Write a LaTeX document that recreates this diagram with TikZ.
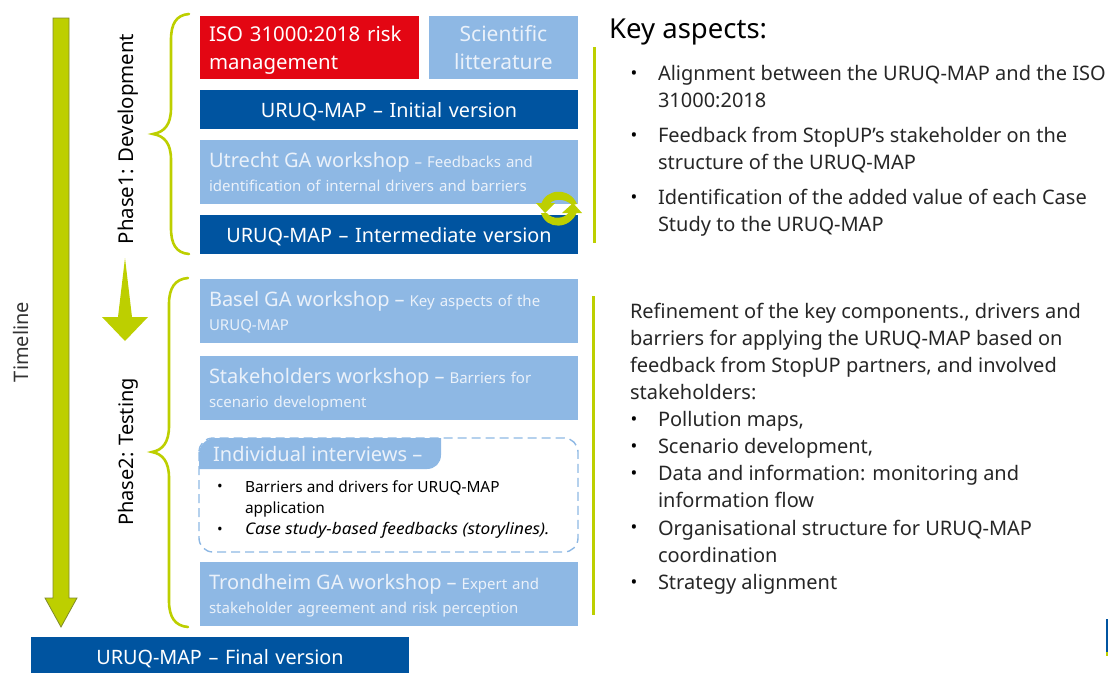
\documentclass[tikz,border=0pt]{standalone}
\usepackage{fontspec}
\usepackage{graphicx}
\setmainfont{Noto Sans}
\definecolor{lime}{HTML}{BDCF00}
\definecolor{olive2}{HTML}{7F8A2A}
\definecolor{deepblue}{HTML}{0054A0}
\definecolor{softblue}{HTML}{8EB8E4}
\definecolor{isored}{HTML}{E30613}
\definecolor{paletext}{HTML}{EAF1FA}
\newcommand{\fs}[2]{\fontsize{#1}{#2}\selectfont}
\newcommand{\headtxt}[1]{{\fs{20}{24}#1}}
\tikzset{
  box/.style={anchor=north west,inner xsep=9pt,inner ysep=0pt,outer sep=0pt,align=left,text depth=0pt},
  softbox/.style={box,fill=softblue,text=paletext},
  softwide/.style={softbox,minimum width=378pt,minimum height=64pt,text width=360pt,text depth=24pt,font=\fs{15}{24}},
  deepbox/.style={box,fill=deepblue,text=white,align=center,minimum width=378pt,text width=360pt,font=\fs{19.8}{24}},
  bracestroke/.style={draw=lime,line width=2.6pt,line cap=round},
  rule/.style={draw=lime,line width=3pt},
  para/.style={anchor=south west,inner sep=0pt,outer sep=0pt,align=left,text=black!85,text depth=0pt,font=\fs{20}{27}},
  bulletmark/.style={anchor=center,inner sep=0pt,text=black,font=\fs{18}{20}},
  phase/.style={rotate=90,anchor=center,inner sep=0pt,text=black,font=\fs{20}{24}}
}
\begin{document}
\begin{tikzpicture}[x=1pt,y=-1pt]
\useasboundingbox (0,0) rectangle (1108,672);
% timeline arrow
\draw[draw=olive2,fill=lime,line width=0.8pt] (53,18) -- (69,18) -- (69,598) -- (77,598) -- (61,627) -- (45,598) -- (53,598) -- cycle;
\node[phase,text=black!80] (timeline) at (21,342) {Timeline};
% phase arrow
\fill[lime] (125,258) -- (132,317) -- (148,317) -- (125,341) -- (102,317) -- (118,317) -- cycle;
\node[phase,font=\fs{20.4}{24}] (phaseone) at (128,139) {Phase1: Development};
\node[phase] (phasetwo) at (128,452) {Phase2: Testing};
% braces
\draw[bracestroke] (189,14) .. controls (176,15) and (171,24) .. (171,40) -- (171,108) .. controls (171,124) and (165,132) .. (153,134) .. controls (165,136) and (171,144) .. (171,160) -- (171,228) .. controls (171,244) and (176,253) .. (189,254);
\draw[bracestroke] (188,278) .. controls (175,279) and (169,288) .. (169,304) -- (169,426) .. controls (169,442) and (163,450) .. (152,452) .. controls (163,454) and (169,462) .. (169,478) -- (169,601) .. controls (169,617) and (175,626) .. (188,627);
% boxes
\node[box,fill=isored,text=white,minimum width=219pt,minimum height=63pt,text width=201pt,text depth=28pt,font=\fs{20.4}{28}] (iso) at (200,16) {ISO 31000:2018 risk\\management};
\node[softbox,minimum width=149pt,minimum height=63pt,text width=131pt,text depth=28pt,align=center,font=\fs{21}{28}] (lit) at (429,16) {Scientific\\litterature};
\node[deepbox,minimum height=39pt] (initial) at (200,90) {URUQ-MAP – Initial version};
\node[softwide] (utrecht) at (200,140) {\headtxt{Utrecht GA workshop} – Feedbacks and\\identification of internal drivers and barriers};
\node[deepbox,minimum height=39pt] (intermediate) at (200,215) {URUQ-MAP – Intermediate version};
\node[softwide] (basel) at (200,279) {\headtxt{Basel GA workshop –} Key aspects of the\\URUQ-MAP};
\node[softwide] (stake) at (200,356) {\headtxt{Stakeholders workshop –} Barriers for\\scenario development};
% interviews
\draw[draw=softblue,line width=1.4pt,dash pattern=on 9pt off 5pt,rounded corners=14pt] (199,438) rectangle (578,552);
\fill[softblue] (199,469) -- (199,455) .. controls (199,445) and (206,438) .. (216,438) -- (441,438) -- (441,455) .. controls (441,463) and (435,469) .. (427,469) -- cycle;
\node[anchor=west,inner sep=0pt,text=paletext,font=\fs{20}{24}] (indiv) at (213,454) {Individual interviews –};
\node[bulletmark,font=\fs{15}{18}] (b1) at (220,488) {•};
\node[para,text=black,font=\fs{15.4}{21}] (t1) at (245,513) {Barriers and drivers for URUQ-MAP\\application};
\node[bulletmark,font=\fs{15}{18}] (b2) at (220,531) {•};
\node[para,text=black,font=\fs{16}{18}] (t2) at (245,534.5) {\scalebox{1.075}[1]{\itshape Case study-based feedbacks (storylines).}};
\node[softwide] (trond) at (200,562) {\headtxt{Trondheim GA workshop –} Expert and\\stakeholder agreement and risk perception};
\node[deepbox,minimum height=40pt] (final) at (31,637) {URUQ-MAP – Final version};
% cycle icon
\fill[lime] (541,205) .. controls (545,188) and (570,187) .. (577,204) -- (572,205) .. controls (565,198) and (552,198) .. (549,205) -- cycle;
\fill[lime] (536,203) -- (555,203) -- (545,213) -- cycle;
\fill[lime] (541,213) .. controls (546,230) and (570,230) .. (577,212) -- (569,212) .. controls (565,219) and (552,220) .. (547,213) -- cycle;
\fill[lime] (562,213) -- (582,213) -- (573,203) -- cycle;
% rules
\draw[rule] (594,47) -- (594,243);
\draw[rule] (593,296) -- (593,615);
\fill[deepblue] (1106,619) rectangle (1108,652);
\fill[lime] (1106,652) rectangle (1108,656);
% right text
\node[anchor=south west,inner sep=0pt,text=black,text depth=0pt,font=\fs{27.5}{30}] (key) at (609,39) {Key aspects:};
\node[bulletmark] (k1) at (634,75) {•};
\node[para] (kt1) at (658,107) {Alignment between the URUQ-MAP and the ISO\\31000:2018};
\node[bulletmark] (k2) at (634,137) {•};
\node[para] (kt2) at (658,169) {Feedback from StopUP’s stakeholder on the\\structure of the URUQ-MAP};
\node[bulletmark] (k3) at (634,199) {•};
\node[para] (kt3) at (658,231) {Identification of the added value of each Case\\Study to the URUQ-MAP};
\node[para] (intro) at (630,399) {Refinement of the key components., drivers and\\barriers for applying the URUQ-MAP based on\\feedback from StopUP partners, and involved\\stakeholders:};
\node[bulletmark] (p1) at (634,421) {•};
\node[para] (pt1) at (658,426) {Pollution maps,};
\node[bulletmark] (p2) at (634,448) {•};
\node[para] (pt2) at (658,453) {Scenario development,};
\node[bulletmark] (p3) at (634,475) {•};
\node[para] (pt3) at (658,507) {Data and information: monitoring and\\information flow};
\node[bulletmark] (p4) at (634,529) {•};
\node[para] (pt4) at (658,562) {Organisational structure for URUQ-MAP\\coordination};
\node[bulletmark] (p5) at (634,584) {•};
\node[para] (pt5) at (658,589) {Strategy alignment};
\end{tikzpicture}
\end{document}
